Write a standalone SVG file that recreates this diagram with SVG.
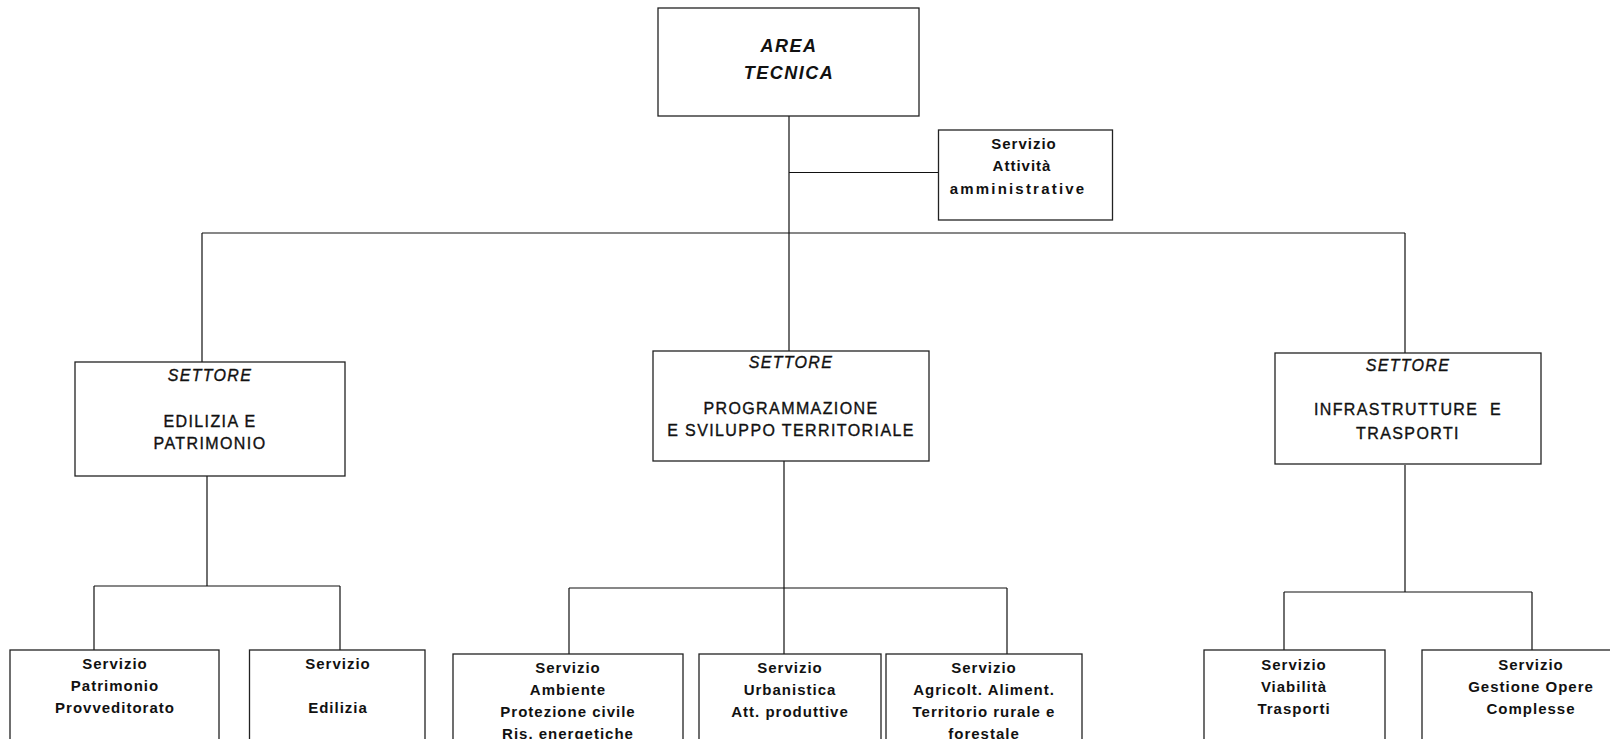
<svg xmlns="http://www.w3.org/2000/svg" width="1610" height="739" viewBox="0 0 1610 739">
<style>
.box{fill:#fff;stroke:#222;stroke-width:1.3}
.ln{fill:none;stroke:#111;stroke-width:1.2}
text{font-family:"Liberation Sans",Arial,sans-serif;fill:#111;text-anchor:middle}
.area{font-size:18px;font-weight:bold;font-style:italic;letter-spacing:1.5px}
.set{font-size:16px;font-style:italic;letter-spacing:1.3px;stroke:#111;stroke-width:0.35}
.sn{font-size:16px;letter-spacing:1.4px;stroke:#111;stroke-width:0.35}
.sv{font-size:15px;font-weight:bold;letter-spacing:1px}
</style>
<rect width="1610" height="739" fill="#fff"/>
<g id="connectors">
<path class="ln" d="M789 116V233M789 172.5H938.5M202 233H1405M202 233V362M789 233V351M1405 233V353"/>
<path class="ln" d="M207 476V586M94 586H340M94 586V650M340 586V650"/>
<path class="ln" d="M784 461V588M569 588H1007M569 588V654M784 588V654M1007 588V654"/>
<path class="ln" d="M1405 465V592M1284 592H1532M1284 592V650M1532 592V650"/>
</g>
<g id="area-tecnica"><rect class="box" x="658" y="8" width="261" height="108"/>
<text class="area" x="789" y="52">AREA</text><text class="area" x="789" y="79">TECNICA</text></g>
<g id="servizio-attivita"><rect class="box" x="938.5" y="130" width="174" height="90"/>
<text class="sv" x="1024" y="149">Servizio</text><text class="sv" x="1022" y="171">Attività</text><text class="sv" x="1018" y="194" style="letter-spacing:2.2px">amministrative</text></g>
<g id="settore-edilizia"><rect class="box" x="75" y="362" width="270" height="114"/>
<text class="set" x="210" y="381">SETTORE</text><text class="sn" x="210" y="427">EDILIZIA E</text><text class="sn" x="210" y="449">PATRIMONIO</text></g>
<g id="settore-programmazione"><rect class="box" x="653" y="351" width="276" height="110"/>
<text class="set" x="791" y="368">SETTORE</text><text class="sn" x="791" y="414">PROGRAMMAZIONE</text><text class="sn" x="791" y="436">E SVILUPPO TERRITORIALE</text></g>
<g id="settore-infrastrutture"><rect class="box" x="1275" y="353" width="266" height="111"/>
<text class="set" x="1408" y="371">SETTORE</text><text class="sn" x="1408" y="415" style="white-space:pre">INFRASTRUTTURE  E</text><text class="sn" x="1408" y="439">TRASPORTI</text></g>
<g id="servizio-patrimonio"><rect class="box" x="10" y="650" width="209" height="100"/>
<text class="sv" x="115" y="669">Servizio</text><text class="sv" x="115" y="691">Patrimonio</text><text class="sv" x="115" y="713">Provveditorato</text></g>
<g id="servizio-edilizia"><rect class="box" x="249.5" y="650" width="175.5" height="100"/>
<text class="sv" x="338" y="669">Servizio</text><text class="sv" x="338" y="713">Edilizia</text></g>
<g id="servizio-ambiente"><rect class="box" x="453" y="654" width="230" height="100"/>
<text class="sv" x="568" y="673">Servizio</text><text class="sv" x="568" y="695">Ambiente</text><text class="sv" x="568" y="717">Protezione civile</text><text class="sv" x="568" y="739">Ris. energetiche</text></g>
<g id="servizio-urbanistica"><rect class="box" x="699" y="654" width="182" height="100"/>
<text class="sv" x="790" y="673">Servizio</text><text class="sv" x="790" y="695">Urbanistica</text><text class="sv" x="790" y="717">Att. produttive</text></g>
<g id="servizio-agricoltura"><rect class="box" x="886" y="654" width="196" height="100"/>
<text class="sv" x="984" y="673">Servizio</text><text class="sv" x="984" y="695">Agricolt. Aliment.</text><text class="sv" x="984" y="717">Territorio rurale e</text><text class="sv" x="984" y="739">forestale</text></g>
<g id="servizio-viabilita"><rect class="box" x="1204" y="650" width="181" height="100"/>
<text class="sv" x="1294" y="670">Servizio</text><text class="sv" x="1294" y="692">Viabilità</text><text class="sv" x="1294" y="714">Trasporti</text></g>
<g id="servizio-gestione"><rect class="box" x="1422" y="650" width="220" height="100"/>
<text class="sv" x="1531" y="670">Servizio</text><text class="sv" x="1531" y="692">Gestione Opere</text><text class="sv" x="1531" y="714">Complesse</text></g>
</svg>
